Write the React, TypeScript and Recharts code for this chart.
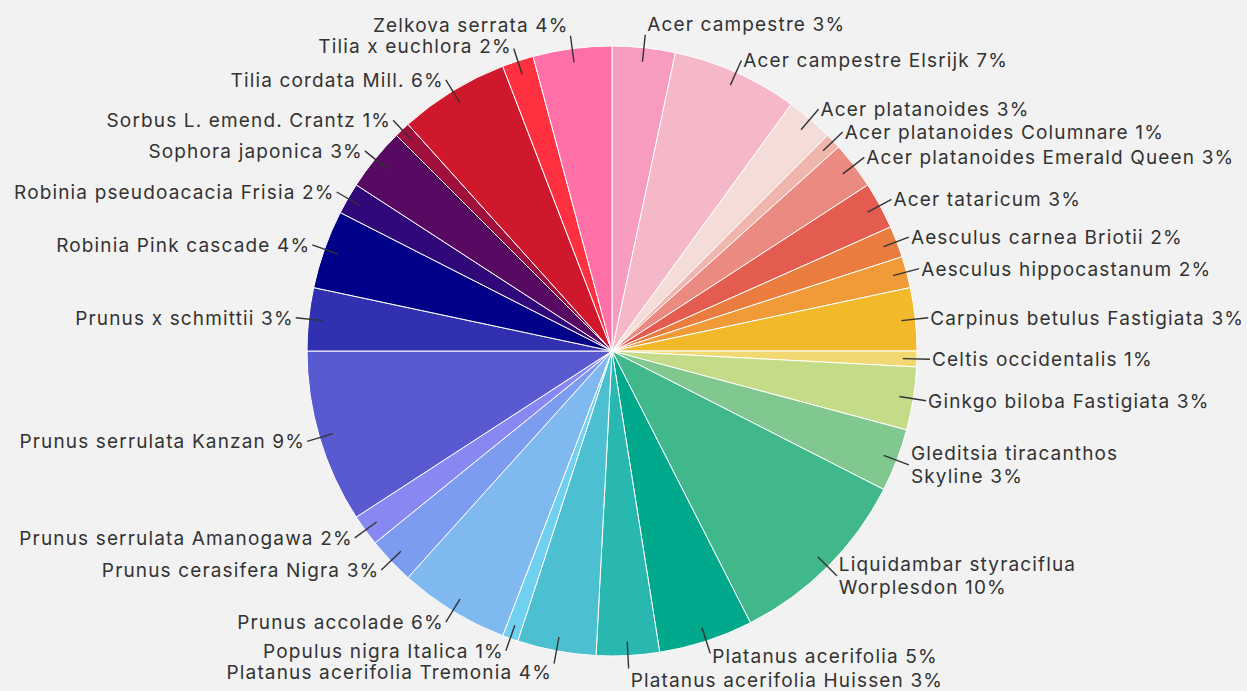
import React from "react";
import { PieChart, Pie, Cell } from "recharts";

const names = [
  "Acer campestre",
  "Acer campestre Elsrijk",
  "Acer platanoides",
  "Acer platanoides Columnare",
  "Acer platanoides Emerald Queen",
  "Acer tataricum",
  "Aesculus carnea Briotii",
  "Aesculus hippocastanum",
  "Carpinus betulus Fastigiata",
  "Celtis occidentalis",
  "Ginkgo biloba Fastigiata",
  "Gleditsia tiracanthos Skyline",
  "Liquidambar styraciflua Worplesdon",
  "Platanus acerifolia",
  "Platanus acerifolia Huissen",
  "Platanus acerifolia Tremonia",
  "Populus nigra Italica",
  "Prunus accolade",
  "Prunus cerasifera Nigra",
  "Prunus serrulata Amanogawa",
  "Prunus serrulata Kanzan",
  "Prunus x schmittii",
  "Robinia Pink cascade",
  "Robinia pseudoacacia Frisia",
  "Sophora japonica",
  "Sorbus L. emend. Crantz",
  "Tilia cordata Mill.",
  "Tilia x euchlora",
  "Zelkova serrata",
];

const counts = [4, 8, 3, 1, 3, 3, 2, 2, 4, 1, 4, 4, 12, 6, 4, 5, 1, 7, 3, 2, 11, 4, 5, 2, 4, 1, 7, 2, 5];

const colors = [
  "#f89cbf",
  "#f5b8c9",
  "#f4dcd9",
  "#f0b6ae",
  "#ea8a80",
  "#e45c50",
  "#ea7c40",
  "#f09a38",
  "#f2b92a",
  "#f2d870",
  "#c4dc88",
  "#80c890",
  "#40b88c",
  "#00a88c",
  "#28b8b0",
  "#4cc0d0",
  "#70d0f0",
  "#80b8f0",
  "#7c9cf0",
  "#8888f2",
  "#5a5ad0",
  "#3030b0",
  "#000088",
  "#30087a",
  "#580a62",
  "#a0103c",
  "#d0182c",
  "#ff3040",
  "#ff70a8",
];

const wrappedNames = ["Gleditsia tiracanthos Skyline", "Liquidambar styraciflua Worplesdon"];

const data = names.map((name, i) => ({ name, value: counts[i] }));

const RAD = Math.PI / 180;
const TEXT_COLOR = "#333333";

function renderLabel(props: any) {
  const { cx, cy, midAngle, outerRadius, percent, index } = props;
  const ux = Math.cos(-midAngle * RAD);
  const uy = Math.sin(-midAngle * RAD);
  const x1 = cx + (outerRadius - 14) * ux;
  const y1 = cy + (outerRadius - 14) * uy;
  const x2 = cx + (outerRadius + 13) * ux;
  const y2 = cy + (outerRadius + 13) * uy;
  const right = ux >= 0;
  const k = Math.min(1, Math.max(0, (Math.abs(uy) - 0.94) / 0.06));
  const dy = Math.sign(uy) * k * 12;
  const pct = Math.round(percent * 100);
  const name: string = names[index] ?? props.name;
  let lines: string[];
  if (wrappedNames.includes(name)) {
    const cut = name.lastIndexOf(" ");
    lines = [name.slice(0, cut), name.slice(cut + 1) + " " + pct + "%"];
  } else {
    lines = [name + " " + pct + "%"];
  }
  const lh = 23;
  const tx = x2 + (right ? 2 : -2);
  const ty = y2 + dy - ((lines.length - 1) * lh) / 2;
  return (
    <g key={"lbl" + index}>
      <line x1={x1} y1={y1} x2={x2} y2={y2} stroke={TEXT_COLOR} strokeWidth={1.4} />
      <text
        x={tx}
        y={ty}
        textAnchor={right ? "start" : "end"}
        dominantBaseline="central"
        fill={TEXT_COLOR}
        fontSize={19}
        letterSpacing={1.15}
        fontFamily="Inter, 'Noto Sans', sans-serif"
      >
        {lines.map((l, i) => (
          <tspan key={i} x={tx} dy={i === 0 ? 0 : lh}>
            {l}
          </tspan>
        ))}
      </text>
    </g>
  );
}

export default function App() {
  return (
    <div
      style={{
        position: "absolute",
        left: 0,
        top: 0,
        width: 1247,
        height: 691,
        background: "#f2f2f2",
        overflow: "hidden",
      }}
    >
      <PieChart width={1247} height={691} margin={{ top: 0, right: 0, bottom: 0, left: 0 }}>
        <Pie
          data={data}
          dataKey="value"
          nameKey="name"
          cx={612}
          cy={351}
          outerRadius={305}
          startAngle={90}
          endAngle={-270}
          stroke="#ffffff"
          strokeWidth={1}
          label={renderLabel}
          labelLine={false}
          isAnimationActive={false}
        >
          {data.map((d, i) => (
            <Cell key={d.name} fill={colors[i]} />
          ))}
        </Pie>
      </PieChart>
    </div>
  );
}
